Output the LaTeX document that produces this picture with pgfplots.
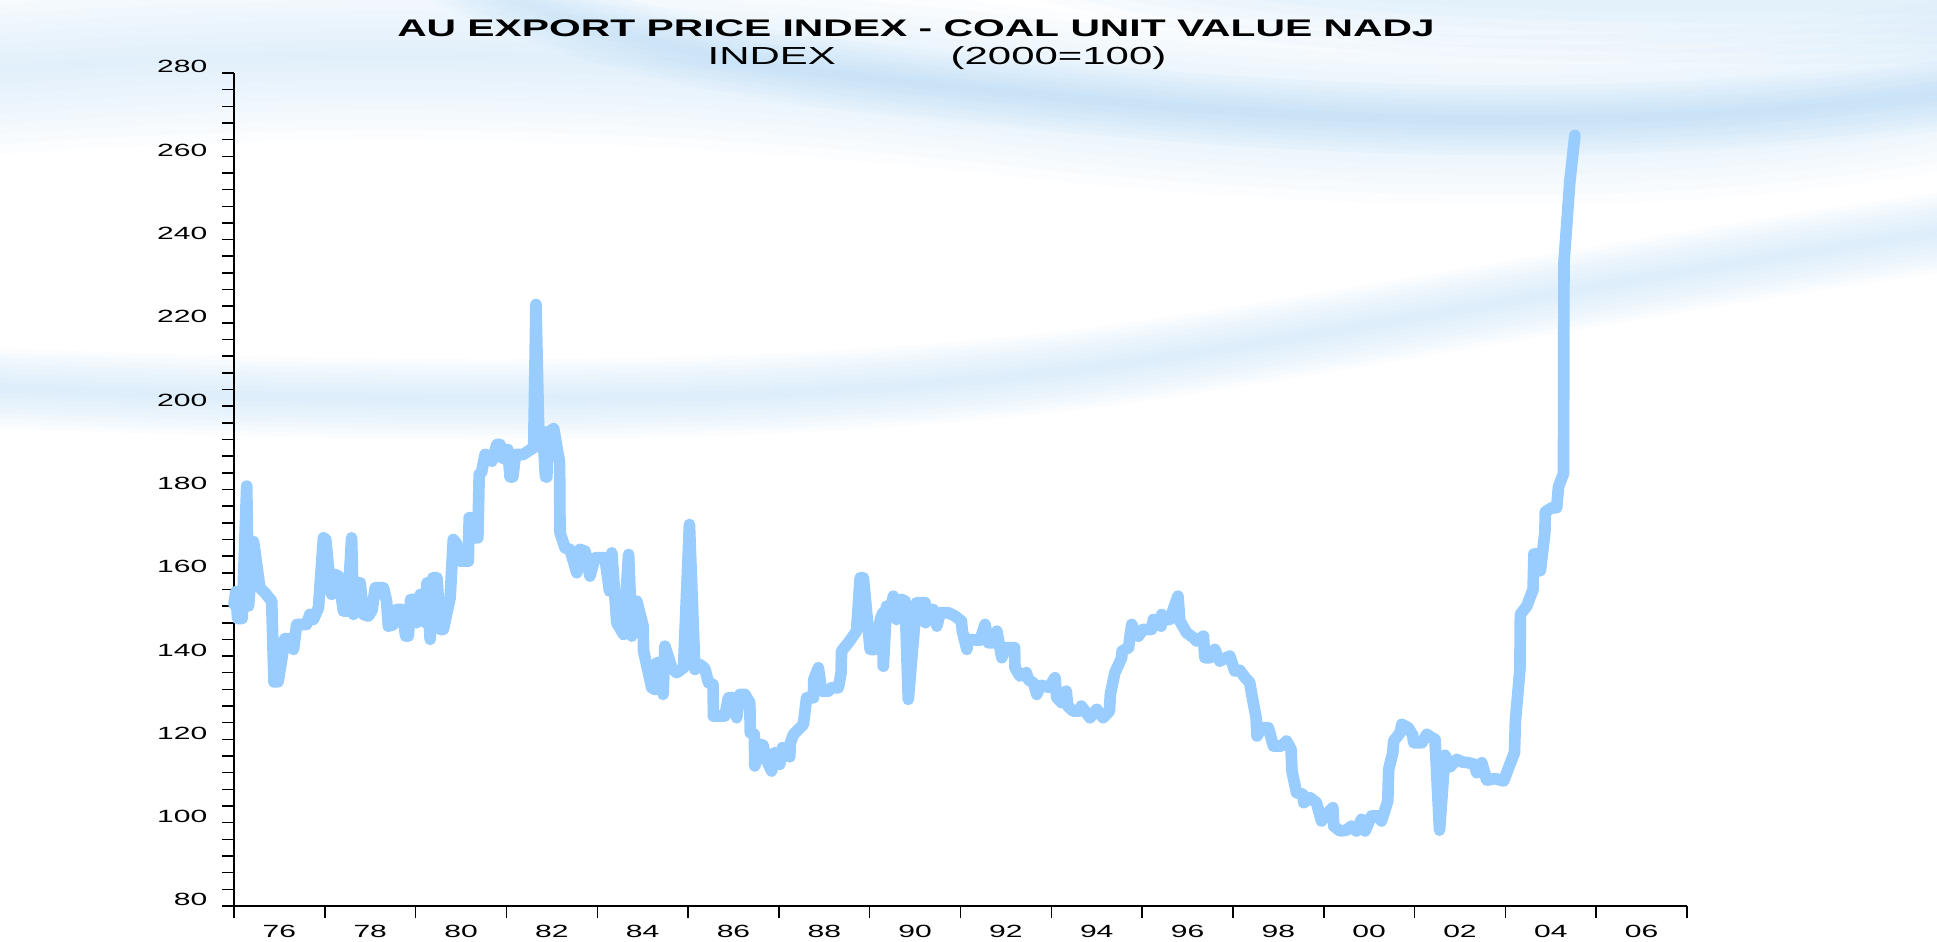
\documentclass[border=0pt]{standalone}
\usepackage{fontspec}
\setmainfont{Liberation Sans}
\newfontfamily\widefont[FakeStretch=1.7]{Liberation Sans}
\usepackage{pgfplots}
\usepackage{pgfplotstable}
\pgfplotsset{compat=1.18}
\definecolor{linecol}{RGB}{153,204,255}
\definecolor{bandcol}{RGB}{165,208,242}

% coal unit value index (year, index)
\pgfplotstableread{
yr val
1975.00 152.5
1975.04 155.5
1975.08 149.0
1975.18 149.0
1975.28 180.8
1975.32 152.0
1975.43 167.5
1975.57 156.4
1975.68 155.2
1975.83 153.2
1975.88 133.8
1975.97 133.8
1976.07 140.5
1976.12 144.2
1976.26 144.2
1976.31 141.6
1976.38 147.6
1976.60 147.6
1976.67 150.0
1976.75 148.8
1976.86 151.6
1976.97 168.4
1977.02 168.0
1977.11 158.0
1977.15 154.8
1977.22 159.6
1977.30 159.2
1977.41 150.8
1977.50 150.8
1977.59 168.4
1977.63 150.0
1977.70 157.6
1977.78 157.6
1977.85 150.0
1977.96 149.6
1978.04 151.0
1978.11 156.4
1978.29 156.4
1978.36 153.2
1978.40 147.2
1978.50 147.5
1978.58 151.2
1978.70 151.2
1978.78 144.8
1978.84 144.8
1978.89 153.6
1978.98 153.6
1979.02 148.0
1979.10 154.8
1979.18 154.8
1979.22 148.0
1979.25 157.6
1979.32 144.0
1979.38 158.8
1979.47 158.8
1979.54 146.4
1979.61 146.4
1979.76 154.0
1979.83 168.0
1979.90 167.0
1979.98 162.8
1980.16 162.8
1980.18 173.2
1980.25 173.2
1980.30 168.4
1980.37 168.4
1980.40 183.6
1980.45 184.0
1980.53 188.4
1980.62 188.0
1980.68 186.8
1980.79 190.8
1980.86 190.8
1980.92 187.5
1981.03 189.6
1981.08 183.0
1981.14 183.0
1981.20 188.4
1981.37 188.4
1981.52 189.5
1981.60 190.0
1981.65 224.4
1981.71 194.2
1981.80 194.0
1981.86 183.0
1981.89 183.0
1981.91 193.6
1982.04 194.6
1982.17 186.5
1982.18 169.6
1982.29 166.0
1982.40 165.6
1982.55 160.0
1982.62 165.6
1982.73 165.2
1982.84 159.2
1982.95 163.6
1983.17 163.6
1983.27 155.6
1983.32 164.8
1983.43 148.0
1983.58 145.2
1983.69 164.4
1983.76 144.8
1983.87 153.2
1984.01 147.2
1984.02 141.2
1984.20 132.4
1984.27 132.0
1984.31 138.4
1984.38 138.4
1984.45 130.8
1984.49 142.4
1984.64 137.2
1984.75 136.0
1984.90 137.2
1985.03 171.6
1985.15 136.8
1985.26 138.0
1985.37 137.0
1985.45 133.6
1985.55 133.2
1985.56 125.6
1985.81 125.6
1985.89 130.0
1986.00 130.0
1986.07 125.2
1986.14 130.8
1986.25 130.8
1986.36 128.8
1986.37 121.6
1986.46 121.2
1986.47 113.6
1986.58 118.8
1986.65 118.6
1986.73 115.0
1986.84 112.4
1986.91 116.8
1987.02 114.0
1987.08 118.0
1987.22 117.5
1987.24 115.8
1987.25 119.0
1987.32 121.2
1987.54 123.6
1987.61 130.0
1987.76 130.0
1987.77 134.4
1987.87 137.2
1987.94 131.6
1988.09 131.6
1988.16 132.4
1988.31 132.4
1988.37 136.0
1988.38 141.2
1988.53 143.2
1988.71 146.0
1988.79 158.8
1988.86 158.8
1989.01 141.6
1989.12 141.6
1989.24 149.0
1989.29 150.4
1989.30 137.6
1989.37 152.0
1989.48 152.0
1989.52 154.4
1989.59 148.8
1989.70 153.6
1989.78 153.2
1989.85 129.6
1990.03 152.8
1990.22 152.8
1990.23 148.0
1990.29 151.2
1990.40 151.2
1990.48 147.2
1990.55 150.4
1990.73 150.4
1990.88 149.6
1991.02 148.4
1991.04 146.0
1991.14 141.6
1991.17 144.0
1991.43 143.8
1991.54 147.6
1991.61 143.2
1991.72 143.2
1991.80 146.0
1991.91 139.6
1991.98 142.0
1992.19 142.0
1992.20 137.2
1992.31 135.2
1992.45 136.0
1992.49 134.4
1992.61 133.5
1992.68 130.8
1992.76 133.0
1992.95 132.5
1993.08 134.8
1993.12 130.0
1993.23 128.8
1993.33 131.6
1993.36 128.0
1993.48 126.8
1993.63 126.8
1993.66 128.0
1993.85 125.2
1994.00 127.2
1994.14 125.2
1994.28 126.8
1994.30 130.8
1994.40 136.0
1994.55 139.6
1994.56 141.2
1994.70 142.0
1994.77 147.6
1994.85 145.5
1994.92 144.8
1995.02 146.4
1995.21 146.4
1995.25 148.8
1995.42 147.2
1995.43 150.0
1995.50 148.8
1995.61 148.8
1995.79 154.4
1995.83 148.4
1995.98 145.6
1996.13 144.4
1996.20 143.6
1996.35 144.8
1996.38 139.6
1996.49 139.6
1996.60 141.6
1996.71 138.8
1996.93 140.0
1997.04 136.4
1997.15 136.6
1997.27 134.8
1997.37 133.6
1997.40 131.6
1997.51 125.2
1997.53 120.8
1997.63 122.8
1997.78 122.8
1997.89 118.4
1998.07 118.4
1998.18 119.6
1998.28 117.6
1998.30 112.4
1998.40 107.2
1998.54 106.8
1998.56 104.8
1998.70 106.0
1998.84 104.8
1998.95 100.4
1999.06 102.0
1999.20 103.6
1999.22 99.2
1999.36 98.0
1999.50 98.2
1999.61 99.2
1999.72 98.0
1999.83 100.8
1999.91 98.0
2000.05 101.6
2000.20 101.6
2000.27 100.4
2000.41 105.2
2000.43 112.8
2000.52 116.8
2000.54 119.6
2000.68 121.6
2000.72 123.6
2000.86 122.8
2000.96 121.0
2000.98 119.2
2001.16 119.2
2001.27 121.2
2001.38 120.4
2001.45 120.0
2001.55 98.2
2001.67 116.2
2001.78 113.4
2001.93 115.2
2002.04 114.6
2002.18 114.4
2002.32 114.0
2002.37 112.0
2002.48 114.4
2002.59 110.2
2002.77 110.6
2002.96 110.0
2003.10 114.0
2003.20 116.8
2003.22 124.3
2003.32 136.8
2003.33 150.0
2003.47 152.0
2003.61 156.0
2003.63 164.5
2003.74 164.5
2003.77 160.5
2003.87 169.7
2003.88 174.6
2004.02 175.6
2004.13 175.6
2004.17 180.7
2004.28 183.8
2004.29 234.4
2004.42 254.0
2004.53 265.0
}\coaltable

\begin{document}
\begin{tikzpicture}
\useasboundingbox (0,0) rectangle (581.1pt,282.6pt);
% background swooshes, drawn in pixel units of the reference (y down)
\begin{scope}[x=0.3pt,y=-0.3pt,shift={(0pt,282.6pt)}]
  \clip (0,0) rectangle (1937,942);
  % broad wash across the top
  \foreach \w in {170,150,...,10}{
    \draw[bandcol, line width=\w*0.3pt, opacity=0.045]
      (-80,75) .. controls (350,40) and (700,55) .. (1050,95)
      .. controls (1350,125) and (1700,140) .. (2020,70);
  }
  % darker wave core, coming down from the top edge
  \foreach \w in {70,60,...,10}{
    \draw[bandcol, line width=\w*0.3pt, opacity=0.065]
      (350,-90) .. controls (550,60) and (850,80) .. (1150,105)
      .. controls (1450,130) and (1750,125) .. (2020,85);
  }
  % top right corner
  \foreach \w in {120,100,...,20}{
    \draw[bandcol, line width=\w*0.3pt, opacity=0.06]
      (900,-120) .. controls (1150,20) and (1600,0) .. (2020,5);
  }
  % low band on the left rising to the right
  \foreach \w in {80,70,...,10}{
    \draw[bandcol, line width=\w*0.3pt, opacity=0.055]
      (-80,385) .. controls (400,405) and (800,410) .. (1150,360)
      .. controls (1450,315) and (1750,255) .. (2020,222);
  }
\end{scope}

\node[font=\widefont\bfseries\fontsize{7.2pt}{8pt}\selectfont, anchor=base, inner sep=0pt]
  at (274.8pt,271.5pt) {AU EXPORT PRICE INDEX - COAL UNIT VALUE NADJ};
\node[font=\widefont\fontsize{7.4pt}{8pt}\selectfont, anchor=base west, inner sep=0pt]
  at (212.1pt,263.1pt) {INDEX};
\node[font=\widefont\fontsize{7.4pt}{8pt}\selectfont, anchor=base east, inner sep=0pt]
  at (350.1pt,263.1pt) {(2000=100)};

\begin{axis}[
  at={(70.2pt,10.8pt)}, anchor=south west,
  scale only axis, width=435.9pt, height=249.9pt,
  xmin=1975, xmax=2007, ymin=80, ymax=280,
  axis x line*=bottom, axis y line*=left,
  axis line style={black, line width=0.45pt},
  clip=false,
  tick align=outside,
  major tick length=0pt, minor tick length=3.6pt,
  minor tick style={black, line width=0.45pt},
  ytick={80,100,...,280},
  minor ytick={80,84,...,280},
  xtick={1976,1978,...,2006},
  xticklabels={76,78,80,82,84,86,88,90,92,94,96,98,00,02,04,06},
  minor xtick={1975,1977,...,2007},
  /pgf/number format/assume math mode=true,
  ticklabel style={font=\widefont\fontsize{5.3pt}{6pt}\selectfont, inner sep=0pt},
  yticklabel style={anchor=base east, xshift=-7.8pt},
  xticklabel style={anchor=north, yshift=-5.7pt},
]
  \addplot[linecol, line width=3.5pt, line join=round, line cap=round]
    table[x=yr, y=val] {\coaltable};
\end{axis}
\end{tikzpicture}
\end{document}
